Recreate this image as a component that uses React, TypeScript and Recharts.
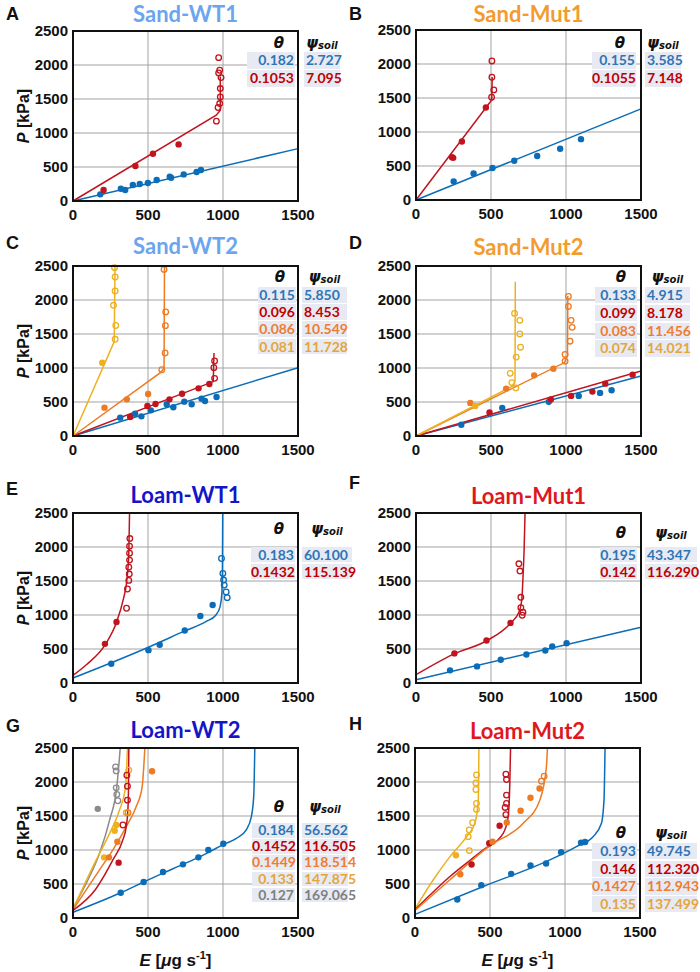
import React from 'react';
import { ComposedChart, Line, Scatter, XAxis, YAxis, CartesianGrid } from 'recharts';

type P = [number, number];

// ---------- colours ----------
const BLUE = '#0B6DB7';
const RED = '#C0141E';
const ORANGE = '#EE7A22';
const YELLOW = '#EDB120';
const GRAY = '#8A8A8A';
const T_BLUE = '#2E75B6';
const T_RED = '#C00000';
const T_ORANGE = '#ED7D31';
const T_YELLOW = '#E5A53A';
const T_GRAY = '#7F7F7F';

// ---------- axes ----------
const xTicks = [0, 500, 1000, 1500];
const yTicks = [0, 500, 1000, 1500, 2000, 2500];

// ---------- Panel A: Sand-WT1 ----------
const aBlueFit: P[] = [[0, 0], [1500, 770]];
const aBlueFilled: P[] = [[182, 98], [319, 181], [348, 161], [399, 235], [445, 250], [499, 264], [558, 308], [645, 357], [654, 342], [738, 391], [824, 426], [853, 455]];
const aRedFit: P[] = [[0, 0], [955, 1262], [982, 1336], [982, 1830]];
const aRedFilled: P[] = [[204, 161], [416, 514], [533, 695], [704, 832]];
const aRedOpen: P[] = [[971, 2108], [978, 1923], [971, 1883], [987, 1815], [982, 1654], [982, 1531], [978, 1433], [967, 1375], [956, 1174]];
const aTheta = ['0.182', '0.1053'];
const aPsi = ['2.727', '7.095'];

// ---------- Panel B: Sand-Mut1 ----------
const bBlueFit: P[] = [[0, 0], [1500, 1340]];
const bBlueFilled: P[] = [[251, 274], [384, 391], [510, 470], [655, 577], [808, 646], [961, 753], [1100, 895]];
const bRedFit: P[] = [[0, 0], [505, 1470], [508, 1810]];
const bRedFilled: P[] = [[240, 630], [248, 620], [306, 861], [466, 1360]];
const bRedOpen: P[] = [[506, 2045], [506, 1805], [519, 1619], [504, 1512]];
const bTheta = ['0.155', '0.1055'];
const bPsi = ['3.585', '7.148'];

// ---------- Panel C: Sand-WT2 ----------
const cBlueFit: P[] = [[0, 0], [1500, 1005]];
const cBlueFilled: P[] = [[315, 270], [414, 328], [456, 289], [519, 377], [625, 466], [669, 422], [742, 505], [791, 466], [857, 549], [880, 515], [957, 574]];
const cRedFit: P[] = [[0, 0], [935, 800], [940, 1220]];
const cRedFilled: P[] = [[381, 279], [496, 441], [550, 471], [643, 539], [727, 622], [837, 701], [909, 765]];
const cRedOpen: P[] = [[944, 848], [939, 1005], [944, 1103]];
const cOrangeFit: P[] = [[0, 0], [585, 935], [607, 1000], [610, 2500]];
const cOrangeFilled: P[] = [[210, 417], [359, 539], [501, 618]];
const cOrangeOpen: P[] = [[592, 975], [614, 1221], [616, 1623], [618, 1824], [607, 2450]];
const cYellowFit: P[] = [[0, 0], [275, 1390], [280, 2500]];
const cYellowFilled: P[] = [[195, 1078]];
const cYellowOpen: P[] = [[281, 1422], [285, 1625], [270, 1922], [281, 2132], [281, 2338], [277, 2475]];
const cTheta = ['0.115', '0.096', '0.086', '0.081'];
const cPsi = ['5.850', '8.453', '10.549', '11.728'];

// ---------- Panel D: Sand-Mut2 ----------
const dBlueFit: P[] = [[0, 0], [1500, 882]];
const dBlueFilled: P[] = [[302, 166], [575, 414], [885, 502], [1085, 590], [1227, 634], [1304, 673]];
const dRedFit: P[] = [[0, 0], [1500, 955]];
const dRedFilled: P[] = [[490, 346], [899, 536], [1034, 590], [1176, 653], [1262, 770], [1444, 902]];
const dOrangeFit: P[] = [[0, 0], [990, 1080], [1010, 1180], [1012, 2060]];
const dOrangeFilled: P[] = [[362, 487], [601, 697], [788, 892], [916, 989]];
const dOrangeOpen: P[] = [[994, 1101], [994, 1199], [1027, 1394], [1041, 1598], [1034, 1701], [1016, 1905], [1016, 2052]];
const dYellowFit: P[] = [[0, 0], [640, 730], [660, 800], [662, 2270]];
const dYellowFilled: P[] = [[395, 443]];
const dYellowOpen: P[] = [[666, 707], [639, 785], [628, 921], [668, 1160], [697, 1306], [692, 1501], [692, 1701], [657, 1803]];
const dTheta = ['0.133', '0.099', '0.083', '0.074'];
const dPsi = ['4.915', '8.178', '11.456', '14.021'];

// ---------- Panel E: Loam-WT1 ----------
const eBlueFit: P[] = [[0, 73], [499, 522], [742, 762], [886, 903], [953, 1001], [980, 1120], [992, 1300], [996, 1600], [998, 2500]];
const eBlueFilled: P[] = [[255, 283], [503, 483], [578, 562], [745, 771], [849, 986], [931, 1147]];
const eBlueOpen: P[] = [[990, 1831], [999, 1611], [1004, 1514], [1008, 1440], [1021, 1338], [1028, 1255]];
const eRedFit: P[] = [[0, 112], [89, 268], [217, 571], [292, 903], [337, 1245], [355, 1440], [365, 1650], [372, 1900], [377, 2500]];
const eRedFilled: P[] = [[213, 576], [290, 898]];
const eRedOpen: P[] = [[357, 1099], [363, 1382], [372, 1509], [375, 1602], [372, 1704], [377, 1807], [377, 1909], [377, 2012], [379, 2124]];
const eTheta = ['0.183', '0.1432'];
const ePsi = ['60.100', '115.139'];

// ---------- Panel F: Loam-Mut1 ----------
const fBlueFit: P[] = [[0, 49], [1500, 820]];
const fBlueFilled: P[] = [[227, 186], [407, 244], [565, 342], [736, 420], [862, 479], [908, 537], [1004, 586]];
const fRedFit: P[] = [[0, 122], [251, 425], [474, 625], [632, 884], [688, 1050], [706, 1245], [713, 1538], [721, 1978], [727, 2500]];
const fRedFilled: P[] = [[256, 435], [470, 625], [630, 884]];
const fRedOpen: P[] = [[686, 1753], [693, 1646], [699, 1260], [699, 1108], [713, 1040], [708, 996]];
const fTheta = ['0.195', '0.142'];
const fPsi = ['43.347', '116.290'];

// ---------- Panel G: Loam-WT2 ----------
const gBlueFit: P[] = [[0, 85], [318, 372], [471, 529], [600, 660], [733, 789], [836, 892], [902, 965], [1002, 1080], [1089, 1170], [1156, 1300], [1189, 1490], [1205, 1800], [1212, 2500]];
const gBlueFilled: P[] = [[318, 372], [471, 529], [600, 676], [733, 789], [836, 892], [902, 1000], [1002, 1093]];
const gGrayFit: P[] = [[0, 146], [100, 562], [177, 952], [244, 1440], [292, 1929], [315, 2500]];
const gGrayFilled: P[] = [[165, 1605]];
const gGrayOpen: P[] = [[284, 2222], [288, 2163], [288, 1914], [292, 1816], [299, 1724]];
const gYellowFit: P[] = [[0, 132], [155, 855], [244, 1245], [310, 1587], [350, 1929], [363, 2500]];
const gYellowFilled: P[] = [[207, 892], [278, 1284], [289, 1368]];
const gYellowOpen: P[] = [[372, 2173], [355, 1548]];
const gOrangeFit: P[] = [[0, 122], [177, 708], [266, 1001], [355, 1343], [421, 1636], [461, 1929], [479, 2500]];
const gOrangeFilled: P[] = [[240, 892], [296, 1122], [527, 2158]];
const gOrangeOpen: P[] = [[367, 1549]];
const gRedFit: P[] = [[0, 112], [150, 420], [266, 854], [332, 1147], [355, 1343], [366, 1600], [370, 1900], [372, 2500]];
const gRedFilled: P[] = [[304, 814]];
const gRedOpen: P[] = [[333, 1368], [363, 1733], [363, 1938], [359, 2100]];
const gTheta = ['0.184', '0.1452', '0.1449', '0.133', '0.127'];
const gPsi = ['56.562', '116.505', '118.514', '147.875', '169.065'];

// ---------- Panel H: Loam-Mut2 ----------
const hBlueFit: P[] = [[0, 54], [455, 464], [899, 854], [1076, 1050], [1187, 1196], [1243, 1392], [1260, 1733], [1267, 2500]];
const hBlueFilled: P[] = [[282, 273], [442, 483], [641, 649], [770, 771], [874, 801], [974, 967], [1107, 1108], [1134, 1118]];
const hYellowFit: P[] = [[0, 132], [122, 562], [233, 903], [344, 1196], [399, 1392], [422, 1733], [426, 2500]];
const hYellowFilled: P[] = [[273, 923]];
const hYellowOpen: P[] = [[362, 991], [355, 1196], [362, 1294], [384, 1401], [410, 1597], [410, 1685], [406, 1890], [406, 1987], [410, 2104]];
const hRedFit: P[] = [[0, 122], [233, 610], [455, 1001], [588, 1245], [621, 1489], [632, 1978], [637, 2500]];
const hRedFilled: P[] = [[377, 786], [495, 1099], [564, 1357]];
const hRedOpen: P[] = [[606, 1519], [601, 1626], [610, 1685], [610, 1807], [610, 2036], [606, 2114]];
const hOrangeFit: P[] = [[0, 112], [233, 562], [499, 1064], [721, 1392], [832, 1733], [876, 2222], [883, 2500]];
const hOrangeFilled: P[] = [[302, 644], [517, 1123], [612, 1406], [704, 1577], [770, 1768], [830, 1904]];
const hOrangeOpen: P[] = [[843, 2012], [861, 2085]];
const hTheta = ['0.193', '0.146', '0.1427', '0.135'];
const hPsi = ['49.745', '112.320', '112.943', '137.499'];

// ---------- helpers ----------
const toXY = (arr: P[]) => arr.map(([x, y]) => ({ x, y }));

type Series = { color: string; fit: P[]; filled?: P[]; open?: P[] };
type TableSpec = {
  thetaL: number; thetaR: number; psiL: number; psiR: number;
  headerY: number; rowTop: number; rowH: number;
  theta: string[]; psi: string[]; colors: string[];
};
type PanelCfg = {
  letter: string; title: string; titleColor: string;
  left: number; top: number; titleY: number; letterY: number; letterX: number;
  curve: 'linear' | 'monotone';
  series: Series[];
  table: TableSpec;
  yLabel?: boolean; xLabel?: boolean;
};

const TICK_FONT = '"Liberation Sans", Arial, sans-serif';

const XTick = (props: any) => (
  <text x={props.x} y={199} textAnchor="middle" fontFamily={TICK_FONT} fontWeight="bold" fontSize={15} fill="#111">
    {props.payload.value}
  </text>
);
const YTick = (props: any) => (
  <text x={55} y={props.y + 5.3} textAnchor="end" fontFamily={TICK_FONT} fontWeight="bold" fontSize={15} fill="#111">
    {props.payload.value}
  </text>
);

function Table({ t }: { t: TableSpec }) {
  const cellBg = '#E7EAF3';
  const font = 'Lato, "Open Sans", sans-serif';
  const hdr: React.CSSProperties = { position: 'absolute', top: t.headerY - 9, height: 15, lineHeight: '15px', textAlign: 'center', fontFamily: '"DejaVu Sans", sans-serif', fontStyle: 'italic', fontWeight: 'bold', fontSize: 15, color: '#111', whiteSpace: 'nowrap' };
  return (
    <>
      <div style={{ ...hdr, left: t.thetaR - 30, width: 28 }}>θ</div>
      <div style={{ ...hdr, left: t.psiL, width: t.psiR - t.psiL }}>
        ψ<span style={{ fontSize: 10, position: 'relative', top: 1 }}>soil</span>
      </div>
      {t.theta.map((v, i) => (
        <React.Fragment key={i}>
          <div style={{ position: 'absolute', left: t.thetaL, width: t.thetaR - t.thetaL, top: t.rowTop + i * t.rowH, height: t.rowH - 1.5, lineHeight: `${t.rowH - 1.5}px`, background: cellBg, textAlign: 'right', boxSizing: 'border-box', paddingRight: 1, fontFamily: font, fontWeight: 'bold', fontSize: 14, color: t.colors[i], whiteSpace: 'nowrap' }}>{v}</div>
          <div style={{ position: 'absolute', left: t.psiL, width: t.psiR - t.psiL, top: t.rowTop + i * t.rowH, height: t.rowH - 1.5, lineHeight: `${t.rowH - 1.5}px`, background: cellBg, textAlign: 'left', boxSizing: 'border-box', paddingLeft: 2, fontFamily: font, fontWeight: 'bold', fontSize: 14, color: t.colors[i], whiteSpace: 'nowrap' }}>{t.psi[i]}</div>
        </React.Fragment>
      ))}
    </>
  );
}

function Panel({ cfg }: { cfg: PanelCfg }) {
  const { left, top } = cfg;
  const circleFilled = (color: string) => (p: any) => <circle cx={p.cx} cy={p.cy} r={3.2} fill={color} stroke="none" />;
  const circleOpen = (color: string) => (p: any) => <circle cx={p.cx} cy={p.cy} r={2.8} fill="none" stroke={color} strokeWidth={1.3} />;
  return (
    <>
      <div style={{ position: 'absolute', left: left - 60, top: top - 10 }}>
        <ComposedChart width={320} height={215} margin={{ top: 10, right: 35, bottom: 5, left: 0 }}>
          <CartesianGrid stroke="#A3A3A3" strokeWidth={1} />
          <XAxis type="number" dataKey="x" domain={[0, 1500]} ticks={xTicks} height={30} axisLine={false} tickLine={false} tick={<XTick />} interval={0} />
          <YAxis type="number" dataKey="y" domain={[0, 2500]} ticks={yTicks} width={60} axisLine={false} tickLine={false} tick={<YTick />} interval={0} />
          {cfg.series.map((s, i) => (
            <Line key={'l' + i} data={toXY(s.fit)} dataKey="y" type={cfg.curve} stroke={s.color} strokeWidth={1.5} dot={false} activeDot={false} isAnimationActive={false} />
          ))}
          {cfg.series.map((s, i) => s.filled ? (
            <Scatter key={'f' + i} data={toXY(s.filled)} shape={circleFilled(s.color)} isAnimationActive={false} />
          ) : null)}
          {cfg.series.map((s, i) => s.open ? (
            <Scatter key={'o' + i} data={toXY(s.open)} shape={circleOpen(s.color)} isAnimationActive={false} />
          ) : null)}
        </ComposedChart>
      </div>
      <Table t={cfg.table} />
      <div style={{ position: 'absolute', left: left - 1, top: top - 1, width: 227, height: 172, border: '2px solid #111', boxSizing: 'border-box', pointerEvents: 'none' }} />
      <div style={{ position: 'absolute', left: left, width: 225, top: cfg.titleY - 12, height: 25, lineHeight: '25px', textAlign: 'center', fontFamily: 'Lato, "Open Sans", sans-serif', fontWeight: 'bold', fontSize: 22, color: cfg.titleColor }}>{cfg.title}</div>
      <div style={{ position: 'absolute', left: cfg.letterX, top: cfg.letterY - 11, height: 22, lineHeight: '22px', fontFamily: TICK_FONT, fontWeight: 'bold', fontSize: 18, color: '#111' }}>{cfg.letter}</div>
      {cfg.yLabel ? (
        <div style={{ position: 'absolute', left: 24 - 45, top: top + 85 - 11, width: 90, height: 22, lineHeight: '22px', textAlign: 'center', transform: 'rotate(-90deg)', fontFamily: TICK_FONT, fontWeight: 'bold', fontSize: 16, color: '#111', whiteSpace: 'nowrap' }}>
          <i>P</i> [kPa]
        </div>
      ) : null}
      {cfg.xLabel ? (
        <div style={{ position: 'absolute', left: left - 10, width: 225, top: 949, height: 24, lineHeight: '24px', textAlign: 'center', fontFamily: TICK_FONT, fontWeight: 'bold', fontSize: 17, color: '#111', whiteSpace: 'nowrap' }}>
          <i>E</i> [<i>μ</i>g s<span style={{ fontSize: 11, position: 'relative', top: -7 }}>-1</span>]
        </div>
      ) : null}
    </>
  );
}

const L1 = 73;
const L2 = 416;

const panels: PanelCfg[] = [
  {
    letter: 'A', title: 'Sand-WT1', titleColor: '#6BA5EE', left: L1, top: 31, titleY: 13, letterY: 14, letterX: 6, curve: 'linear', yLabel: true,
    series: [
      { color: BLUE, fit: aBlueFit, filled: aBlueFilled },
      { color: RED, fit: aRedFit, filled: aRedFilled, open: aRedOpen },
    ],
    table: { thetaL: 247, thetaR: 295, psiL: 304, psiR: 340, headerY: 44.5, rowTop: 52, rowH: 18, theta: aTheta, psi: aPsi, colors: [T_BLUE, T_RED] },
  },
  {
    letter: 'B', title: 'Sand-Mut1', titleColor: '#F39B2E', left: L2, top: 30, titleY: 13, letterY: 14, letterX: 349, curve: 'linear',
    series: [
      { color: BLUE, fit: bBlueFit, filled: bBlueFilled },
      { color: RED, fit: bRedFit, filled: bRedFilled, open: bRedOpen },
    ],
    table: { thetaL: 592, thetaR: 636, psiL: 645, psiR: 681, headerY: 44.5, rowTop: 52, rowH: 18, theta: bTheta, psi: bPsi, colors: [T_BLUE, T_RED] },
  },
  {
    letter: 'C', title: 'Sand-WT2', titleColor: '#6BA5EE', left: L1, top: 266, titleY: 245, letterY: 243, letterX: 6, curve: 'linear', yLabel: true,
    series: [
      { color: BLUE, fit: cBlueFit, filled: cBlueFilled },
      { color: RED, fit: cRedFit, filled: cRedFilled, open: cRedOpen },
      { color: ORANGE, fit: cOrangeFit, filled: cOrangeFilled, open: cOrangeOpen },
      { color: YELLOW, fit: cYellowFit, filled: cYellowFilled, open: cYellowOpen },
    ],
    table: { thetaL: 258, thetaR: 296, psiL: 302, psiR: 347, headerY: 279, rowTop: 287, rowH: 17.2, theta: cTheta, psi: cPsi, colors: [T_BLUE, T_RED, T_ORANGE, T_YELLOW] },
  },
  {
    letter: 'D', title: 'Sand-Mut2', titleColor: '#F39B2E', left: L2, top: 266, titleY: 246, letterY: 243, letterX: 349, curve: 'linear',
    series: [
      { color: BLUE, fit: dBlueFit, filled: dBlueFilled },
      { color: RED, fit: dRedFit, filled: dRedFilled },
      { color: ORANGE, fit: dOrangeFit, filled: dOrangeFilled, open: dOrangeOpen },
      { color: YELLOW, fit: dYellowFit, filled: dYellowFilled, open: dYellowOpen },
    ],
    table: { thetaL: 595, thetaR: 637, psiL: 645, psiR: 690, headerY: 279, rowTop: 287, rowH: 17.8, theta: dTheta, psi: dPsi, colors: [T_BLUE, T_RED, T_ORANGE, T_YELLOW] },
  },
  {
    letter: 'E', title: 'Loam-WT1', titleColor: '#1414C8', left: L1, top: 513, titleY: 494, letterY: 489, letterX: 6, curve: 'monotone', yLabel: true,
    series: [
      { color: BLUE, fit: eBlueFit, filled: eBlueFilled, open: eBlueOpen },
      { color: RED, fit: eRedFit, filled: eRedFilled, open: eRedOpen },
    ],
    table: { thetaL: 251, thetaR: 295, psiL: 302, psiR: 352, headerY: 531, rowTop: 547, rowH: 16.5, theta: eTheta, psi: ePsi, colors: [T_BLUE, T_RED] },
  },
  {
    letter: 'F', title: 'Loam-Mut1', titleColor: '#E0181E', left: L2, top: 513, titleY: 495, letterY: 483, letterX: 349, curve: 'monotone',
    series: [
      { color: BLUE, fit: fBlueFit, filled: fBlueFilled },
      { color: RED, fit: fRedFit, filled: fRedFilled, open: fRedOpen },
    ],
    table: { thetaL: 600, thetaR: 637, psiL: 645, psiR: 697, headerY: 535, rowTop: 547, rowH: 16.5, theta: fTheta, psi: fPsi, colors: [T_BLUE, T_RED] },
  },
  {
    letter: 'G', title: 'Loam-WT2', titleColor: '#1414C8', left: L1, top: 748, titleY: 729, letterY: 726, letterX: 6, curve: 'monotone', yLabel: true, xLabel: true,
    series: [
      { color: BLUE, fit: gBlueFit, filled: gBlueFilled },
      { color: GRAY, fit: gGrayFit, filled: gGrayFilled, open: gGrayOpen },
      { color: YELLOW, fit: gYellowFit, filled: gYellowFilled, open: gYellowOpen },
      { color: ORANGE, fit: gOrangeFit, filled: gOrangeFilled, open: gOrangeOpen },
      { color: RED, fit: gRedFit, filled: gRedFilled, open: gRedOpen },
    ],
    table: { thetaL: 252, thetaR: 295, psiL: 302, psiR: 348, headerY: 809, rowTop: 823, rowH: 16.2, theta: gTheta, psi: gPsi, colors: [T_BLUE, T_RED, T_ORANGE, T_YELLOW, T_GRAY] },
  },
  {
    letter: 'H', title: 'Loam-Mut2', titleColor: '#E0181E', left: 415, top: 748, titleY: 730, letterY: 724, letterX: 349, curve: 'monotone', xLabel: true,
    series: [
      { color: BLUE, fit: hBlueFit, filled: hBlueFilled },
      { color: YELLOW, fit: hYellowFit, filled: hYellowFilled, open: hYellowOpen },
      { color: RED, fit: hRedFit, filled: hRedFilled, open: hRedOpen },
      { color: ORANGE, fit: hOrangeFit, filled: hOrangeFilled, open: hOrangeOpen },
    ],
    table: { thetaL: 592, thetaR: 637, psiL: 645, psiR: 697, headerY: 835, rowTop: 843, rowH: 17.7, theta: hTheta, psi: hPsi, colors: [T_BLUE, T_RED, T_ORANGE, T_YELLOW] },
  },
];

export default function App() {
  return (
    <div style={{ position: 'absolute', left: 0, top: 0, width: 700, height: 972, background: '#fff', overflow: 'hidden' }}>
      {panels.map((p) => (
        <Panel key={p.letter} cfg={p} />
      ))}
    </div>
  );
}
